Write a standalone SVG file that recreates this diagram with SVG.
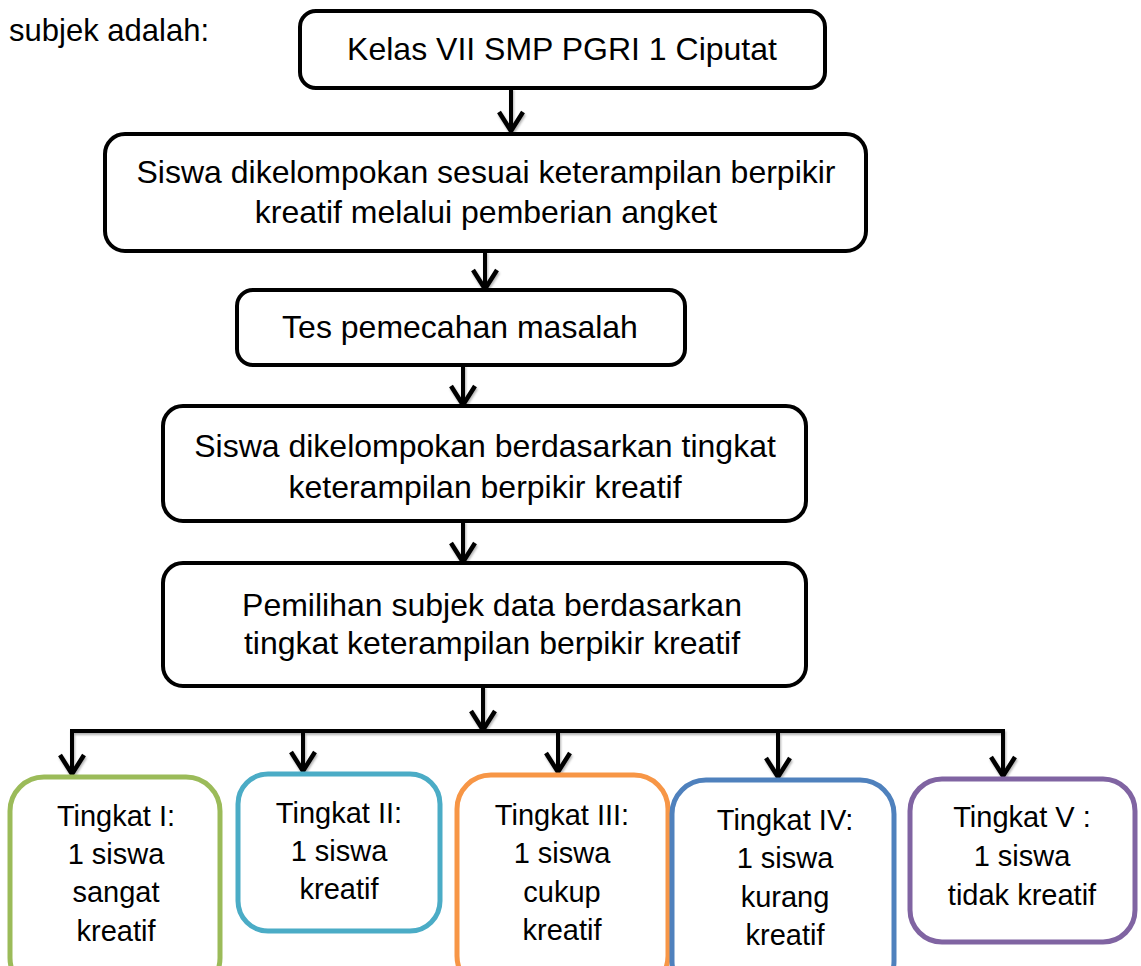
<svg xmlns="http://www.w3.org/2000/svg" width="1141" height="966" viewBox="0 0 1141 966">
  <style>
    .box { fill: #ffffff; stroke: #000000; stroke-width: 4; }
    .lvl { fill: #ffffff; stroke-width: 5; }
    .t { font-family: "Liberation Sans", Arial, sans-serif; font-size: 32px; fill: #000000; text-anchor: middle; }
    .s { font-family: "Liberation Sans", Arial, sans-serif; font-size: 29px; fill: #000000; text-anchor: middle; }
    .edge { fill: none; stroke: #000000; stroke-width: 4; }
  </style>
  <defs>
    <!-- open chevron head, drawn along +x so orient="auto" points it down the line -->
    <marker id="chev" markerUnits="userSpaceOnUse" viewBox="0 0 24 28" markerWidth="24" markerHeight="28" refX="21" refY="14" orient="auto">
      <path d="M2,2 L21,14 L2,26" fill="none" stroke="#000000" stroke-width="4.5" stroke-linejoin="miter"/>
    </marker>
    <!-- soft shadow under the connector lines -->
    <filter id="shade" x="-10%" y="-10%" width="120%" height="130%">
      <feDropShadow dx="1" dy="2" stdDeviation="1.2" flood-color="#000000" flood-opacity="0.3"/>
    </filter>
  </defs>

  <text class="t" x="9" y="41" style="text-anchor:start" textLength="200" lengthAdjust="spacingAndGlyphs">subjek adalah:</text>

  <g id="connectors" filter="url(#shade)">
    <line class="edge" x1="511" y1="88" x2="511" y2="131" marker-end="url(#chev)"/>
    <line class="edge" x1="485" y1="251" x2="485" y2="289" marker-end="url(#chev)"/>
    <line class="edge" x1="463" y1="365" x2="463" y2="405" marker-end="url(#chev)"/>
    <line class="edge" x1="463" y1="521" x2="463" y2="562" marker-end="url(#chev)"/>
    <line class="edge" x1="483" y1="686" x2="483" y2="730" marker-end="url(#chev)"/>
    <polyline class="edge" points="72,760 72,731 1003,731 1003,760"/>
    <line class="edge" x1="72" y1="740" x2="72" y2="774" marker-end="url(#chev)"/>
    <line class="edge" x1="303" y1="731" x2="303" y2="771" marker-end="url(#chev)"/>
    <line class="edge" x1="558" y1="731" x2="558" y2="772" marker-end="url(#chev)"/>
    <line class="edge" x1="778" y1="731" x2="778" y2="777" marker-end="url(#chev)"/>
    <line class="edge" x1="1003" y1="740" x2="1003" y2="776" marker-end="url(#chev)"/>
  </g>

  <g id="kelas">
    <rect class="box" x="300" y="11" width="525" height="77" rx="16"/>
    <text class="t" x="562" y="60">Kelas VII SMP PGRI 1 Ciputat</text>
  </g>

  <g id="angket">
    <rect class="box" x="105" y="134" width="761" height="117" rx="20"/>
    <text class="t" x="486" y="183">Siswa dikelompokan sesuai keterampilan berpikir</text>
    <text class="t" x="486" y="223">kreatif melalui pemberian angket</text>
  </g>

  <g id="tes">
    <rect class="box" x="237" y="290" width="448" height="75" rx="16"/>
    <text class="t" x="460" y="338">Tes pemecahan masalah</text>
  </g>

  <g id="kelompok">
    <rect class="box" x="163" y="406" width="643" height="115" rx="20"/>
    <text class="t" x="485" y="457">Siswa dikelompokan berdasarkan tingkat</text>
    <text class="t" x="485" y="498">keterampilan berpikir kreatif</text>
  </g>

  <g id="pemilihan">
    <rect class="box" x="163" y="563" width="643" height="123" rx="20"/>
    <text class="t" x="492" y="616">Pemilihan subjek data berdasarkan</text>
    <text class="t" x="492" y="654">tingkat keterampilan berpikir kreatif</text>
  </g>

  <g id="tingkat1">
    <rect class="lvl" x="10" y="777" width="210" height="215" rx="34" stroke="#9BBB59"/>
    <text class="s" x="116" y="826">Tingkat I:</text>
    <text class="s" x="116" y="864">1 siswa</text>
    <text class="s" x="116" y="902">sangat</text>
    <text class="s" x="116" y="941">kreatif</text>
  </g>

  <g id="tingkat2">
    <rect class="lvl" x="238" y="774" width="202" height="157" rx="30" stroke="#4BACC6"/>
    <text class="s" x="339" y="823">Tingkat II:</text>
    <text class="s" x="339" y="861">1 siswa</text>
    <text class="s" x="339" y="899">kreatif</text>
  </g>

  <g id="tingkat3">
    <rect class="lvl" x="457" y="775" width="211" height="215" rx="34" stroke="#F79646"/>
    <text class="s" x="562" y="825">Tingkat III:</text>
    <text class="s" x="562" y="863">1 siswa</text>
    <text class="s" x="562" y="902">cukup</text>
    <text class="s" x="562" y="940">kreatif</text>
  </g>

  <g id="tingkat4">
    <rect class="lvl" x="672" y="780" width="222" height="215" rx="34" stroke="#4F81BD"/>
    <text class="s" x="785" y="830">Tingkat IV:</text>
    <text class="s" x="785" y="868">1 siswa</text>
    <text class="s" x="785" y="907">kurang</text>
    <text class="s" x="785" y="945">kreatif</text>
  </g>

  <g id="tingkat5">
    <rect class="lvl" x="910" y="779" width="225" height="163" rx="32" stroke="#8064A2"/>
    <text class="s" x="1022" y="827">Tingkat V :</text>
    <text class="s" x="1022" y="866">1 siswa</text>
    <text class="s" x="1022" y="905">tidak kreatif</text>
  </g>
</svg>
